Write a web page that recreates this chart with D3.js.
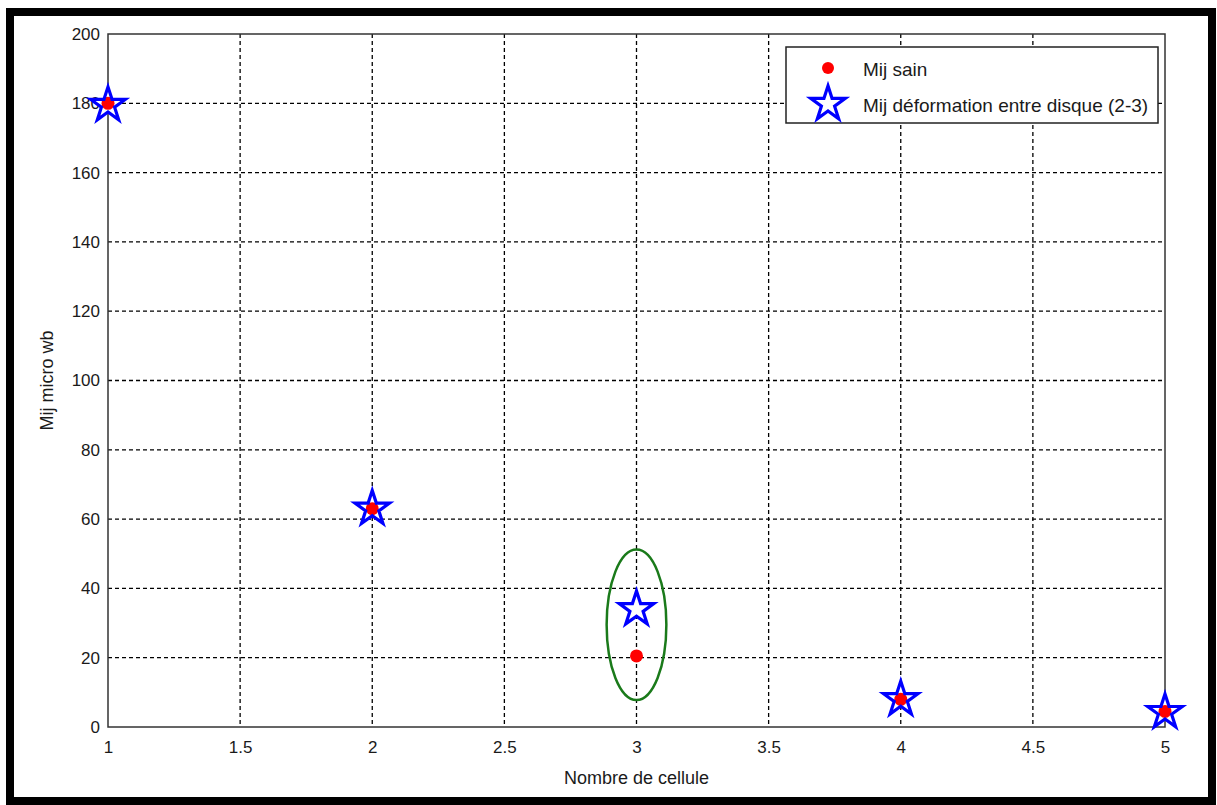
<!DOCTYPE html>
<html>
<head>
<meta charset="utf-8">
<script src="https://cdn.jsdelivr.net/npm/d3@7"></script>
<style>
  body { margin: 0; background: #fff; }
  text { font-family: "Liberation Sans Narrow", "Liberation Sans", Arial, sans-serif; fill: #1a1a1a; }
</style>
</head>
<body>
<svg id="chart" width="1217" height="805"></svg>
<script>
// data
var cells = [1, 2, 3, 4, 5];
var mijSain = [180, 63, 20.5, 8, 4.5];
var mijDeformation = [179.5, 63, 34, 8, 4.3];
var xTicks = [1, 1.5, 2, 2.5, 3, 3.5, 4, 4.5, 5];
var yTicks = [0, 20, 40, 60, 80, 100, 120, 140, 160, 180, 200];
var seriesNames = ["Mij sain", "Mij d\u00e9formation entre disque (2-3)"];

var svg = d3.select('#chart');
var margin = {top: 34, left: 108, right: 52, bottom: 78};
var width = 1217 - margin.left - margin.right,
    height = 805 - margin.top - margin.bottom;

// outer frame
svg.append('rect')
    .attr('x', 10).attr('y', 12)
    .attr('width', 1202).attr('height', 789)
    .attr('fill', 'none').attr('stroke', '#000').attr('stroke-width', 8);

var g = svg.append('g')
    .attr('transform', 'translate(' + margin.left + ',' + margin.top + ')');

var x = d3.scaleLinear().domain([1, 5]).range([0, width]);
var y = d3.scaleLinear().domain([0, 200]).range([height, 0]);

// grid
g.selectAll('.vgrid').data(xTicks.slice(1, -1)).enter()
    .append('line')
    .attr('x1', d => x(d)).attr('x2', d => x(d))
    .attr('y1', 0).attr('y2', height)
    .attr('stroke', '#000').attr('stroke-width', 1.3)
    .attr('stroke-dasharray', '4,3');

g.selectAll('.hgrid').data(yTicks.slice(1, -1)).enter()
    .append('line')
    .attr('x1', 0).attr('x2', width)
    .attr('y1', d => y(d)).attr('y2', d => y(d))
    .attr('stroke', '#000').attr('stroke-width', 1.3)
    .attr('stroke-dasharray', '4,3');

// axes
var xAxis = g.append('g')
    .attr('transform', 'translate(0,' + height + ')')
    .call(d3.axisBottom(x).tickValues(xTicks).tickSize(0).tickPadding(14).tickFormat(d3.format('')));
var yAxis = g.append('g')
    .call(d3.axisLeft(y).tickValues(yTicks).tickSize(0).tickPadding(8));
[xAxis, yAxis].forEach(function(a) {
    a.select('.domain').remove();
    a.selectAll('text').style('font-size', '17px')
        .style('font-family', '"Liberation Sans Narrow", "Liberation Sans", Arial, sans-serif')
        .attr('fill', '#1a1a1a');
});

// plot box
g.append('rect')
    .attr('width', width).attr('height', height)
    .attr('fill', 'none').attr('stroke', '#333').attr('stroke-width', 1.5);

// highlight ellipse around cell 3
g.append('ellipse')
    .attr('cx', x(3)).attr('cy', y(29.5))
    .attr('rx', x(3.113) - x(3)).attr('ry', y(0) - y(21.7))
    .attr('fill', 'none').attr('stroke', '#1a7a1a').attr('stroke-width', 2.5);

var star = d3.symbol().type(d3.symbolStar).size(370);
var pts = cells.map((c, i) => ({c: c, s: mijSain[i], d: mijDeformation[i]}));

g.selectAll('.starbg').data(pts).enter()
    .append('path')
    .attr('d', star)
    .attr('transform', d => 'translate(' + x(d.c) + ',' + y(d.d) + ')')
    .attr('fill', '#fff');

g.selectAll('.dot').data(pts).enter()
    .append('circle')
    .attr('cx', d => x(d.c)).attr('cy', d => y(d.s))
    .attr('r', 6.5).attr('fill', '#ff0000');

g.selectAll('.star').data(pts).enter()
    .append('path')
    .attr('d', star)
    .attr('transform', d => 'translate(' + x(d.c) + ',' + y(d.d) + ')')
    .attr('fill', 'none').attr('stroke', '#0000ff').attr('stroke-width', 3.2);

// axis titles
svg.append('text')
    .attr('x', margin.left + width / 2).attr('y', 784)
    .attr('text-anchor', 'middle').style('font-size', '18px')
    .text('Nombre de cellule');
svg.append('text')
    .attr('transform', 'translate(53,' + (margin.top + height / 2) + ') rotate(-90)')
    .attr('text-anchor', 'middle').style('font-size', '18px')
    .text('Mij micro wb');

// legend
var lg = svg.append('g').attr('transform', 'translate(786,47)');
lg.append('rect')
    .attr('width', 372).attr('height', 76)
    .attr('fill', '#fff').attr('stroke', '#222').attr('stroke-width', 1.5);
lg.append('circle').attr('cx', 42).attr('cy', 21).attr('r', 6).attr('fill', '#ff0000');
lg.append('path').attr('d', star)
    .attr('transform', 'translate(42,57)')
    .attr('fill', 'none').attr('stroke', '#0000ff').attr('stroke-width', 3.2);
lg.selectAll('.lt').data(seriesNames).enter()
    .append('text')
    .attr('x', 77).attr('y', (d, i) => 22 + i * 36)
    .attr('dy', '0.35em')
    .style('font-size', '19px')
    .text(d => d);
</script>
</body>
</html>
